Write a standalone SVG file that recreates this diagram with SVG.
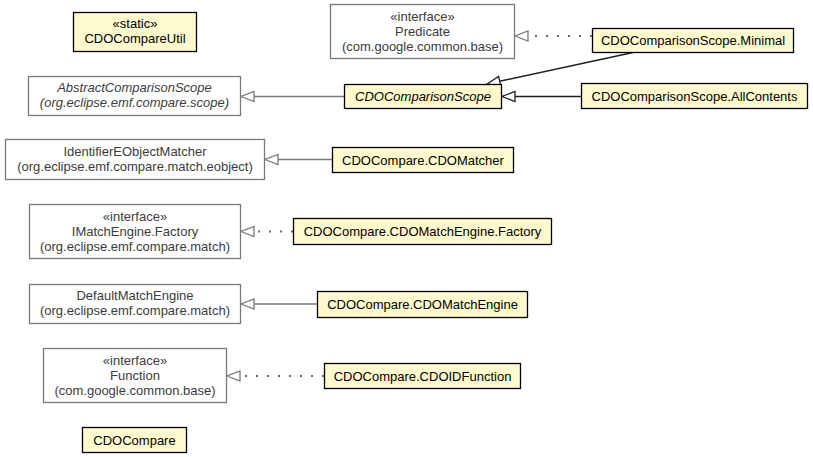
<svg xmlns="http://www.w3.org/2000/svg" width="813" height="457" viewBox="0 0 813 457">
<style>
  text { font-family: "Liberation Sans", Arial, sans-serif; font-size: 13px; text-anchor: middle; }
  .ext rect { fill: #ffffff; stroke: #7a7a7a; stroke-width: 1.3; }
  .ext text { fill: #3c3c3c; }
  .cls rect { fill: #fffacd; stroke: #000000; stroke-width: 1.3; }
  .cls text { fill: #000000; }
  .it { font-style: italic; }
  .solid { stroke: #7a7a7a; stroke-width: 1.5; fill: none; }
  .dark { stroke: #202020; stroke-width: 1.5; fill: none; }
  .dot { stroke: #6a6a6a; stroke-width: 2; stroke-dasharray: 2 9; fill: none; }
</style>
<defs>
  <marker id="tri" markerUnits="userSpaceOnUse" markerWidth="16" markerHeight="14" viewBox="0 0 16 14" refX="14" refY="7" orient="auto">
    <path d="M14,7 L1,2 L1,12 Z" fill="#ffffff" stroke="#7a7a7a" stroke-width="1.3"/>
  </marker>
  <marker id="triDark" markerUnits="userSpaceOnUse" markerWidth="16" markerHeight="14" viewBox="0 0 16 14" refX="14" refY="7" orient="auto">
    <path d="M14,7 L1,2 L1,12 Z" fill="#ffffff" stroke="#202020" stroke-width="1.3"/>
  </marker>
</defs>

<g id="connectors">
  <line class="dot" x1="592" y1="36" x2="515" y2="36" marker-end="url(#tri)"/>
  <line class="solid" x1="344" y1="96.5" x2="241" y2="96.5" marker-end="url(#tri)"/>
  <line class="dark" x1="633" y1="52.5" x2="487" y2="84" marker-end="url(#triDark)"/>
  <line class="dark" x1="581" y1="96.5" x2="502" y2="96.5" marker-end="url(#triDark)"/>
  <line class="solid" x1="332" y1="159.5" x2="265" y2="159.5" marker-end="url(#tri)"/>
  <line class="dot" x1="293" y1="231.5" x2="241" y2="231.5" marker-end="url(#tri)"/>
  <line class="solid" x1="317" y1="304" x2="241" y2="304" marker-end="url(#tri)"/>
  <line class="dot" x1="324" y1="376" x2="227" y2="376" marker-end="url(#tri)"/>
</g>

<g id="CDOCompareUtil" class="cls">
  <rect x="73.5" y="12.5" width="123" height="39"/>
  <text x="135" y="28">«static»</text>
  <text x="135" y="43">CDOCompareUtil</text>
</g>
<g id="Predicate" class="ext">
  <rect x="330.5" y="4.5" width="184" height="54"/>
  <text x="422.5" y="21">«interface»</text>
  <text x="422.5" y="36">Predicate</text>
  <text x="422.5" y="51">(com.google.common.base)</text>
</g>
<g id="CDOComparisonScope.Minimal" class="cls">
  <rect x="592.5" y="28.5" width="201" height="24"/>
  <text x="693" y="45">CDOComparisonScope.Minimal</text>
</g>
<g id="AbstractComparisonScope" class="ext">
  <rect x="28.5" y="76.5" width="212" height="39"/>
  <text class="it" x="134.5" y="92">AbstractComparisonScope</text>
  <text class="it" x="134.5" y="107">(org.eclipse.emf.compare.scope)</text>
</g>
<g id="CDOComparisonScope" class="cls">
  <rect x="344.5" y="84.5" width="157" height="24"/>
  <text class="it" x="423" y="101">CDOComparisonScope</text>
</g>
<g id="CDOComparisonScope.AllContents" class="cls">
  <rect x="581.5" y="83.5" width="226" height="25"/>
  <text x="694.5" y="100.5">CDOComparisonScope.AllContents</text>
</g>
<g id="IdentifierEObjectMatcher" class="ext">
  <rect x="5.5" y="139.5" width="259" height="40"/>
  <text x="135" y="155.5">IdentifierEObjectMatcher</text>
  <text x="135" y="170.5">(org.eclipse.emf.compare.match.eobject)</text>
</g>
<g id="CDOCompare.CDOMatcher" class="cls">
  <rect x="332.5" y="147.5" width="181" height="25"/>
  <text x="423" y="164.5">CDOCompare.CDOMatcher</text>
</g>
<g id="IMatchEngine.Factory" class="ext">
  <rect x="29.5" y="204.5" width="211" height="54"/>
  <text x="135" y="221">«interface»</text>
  <text x="135" y="236">IMatchEngine.Factory</text>
  <text x="135" y="251">(org.eclipse.emf.compare.match)</text>
</g>
<g id="CDOCompare.CDOMatchEngine.Factory" class="cls">
  <rect x="293.5" y="218.5" width="258" height="26"/>
  <text x="422.5" y="236">CDOCompare.CDOMatchEngine.Factory</text>
</g>
<g id="DefaultMatchEngine" class="ext">
  <rect x="29.5" y="284.5" width="211" height="39"/>
  <text x="135" y="300">DefaultMatchEngine</text>
  <text x="135" y="315">(org.eclipse.emf.compare.match)</text>
</g>
<g id="CDOCompare.CDOMatchEngine" class="cls">
  <rect x="317.5" y="291.5" width="210" height="26"/>
  <text x="422.5" y="309">CDOCompare.CDOMatchEngine</text>
</g>
<g id="Function" class="ext">
  <rect x="43.5" y="348.5" width="183" height="54"/>
  <text x="135" y="365">«interface»</text>
  <text x="135" y="380">Function</text>
  <text x="135" y="395">(com.google.common.base)</text>
</g>
<g id="CDOCompare.CDOIDFunction" class="cls">
  <rect x="324.5" y="363.5" width="196" height="25"/>
  <text x="422.5" y="380.5">CDOCompare.CDOIDFunction</text>
</g>
<g id="CDOCompare" class="cls">
  <rect x="82.5" y="427.5" width="104" height="25"/>
  <text x="134.5" y="444.5">CDOCompare</text>
</g>
</svg>
